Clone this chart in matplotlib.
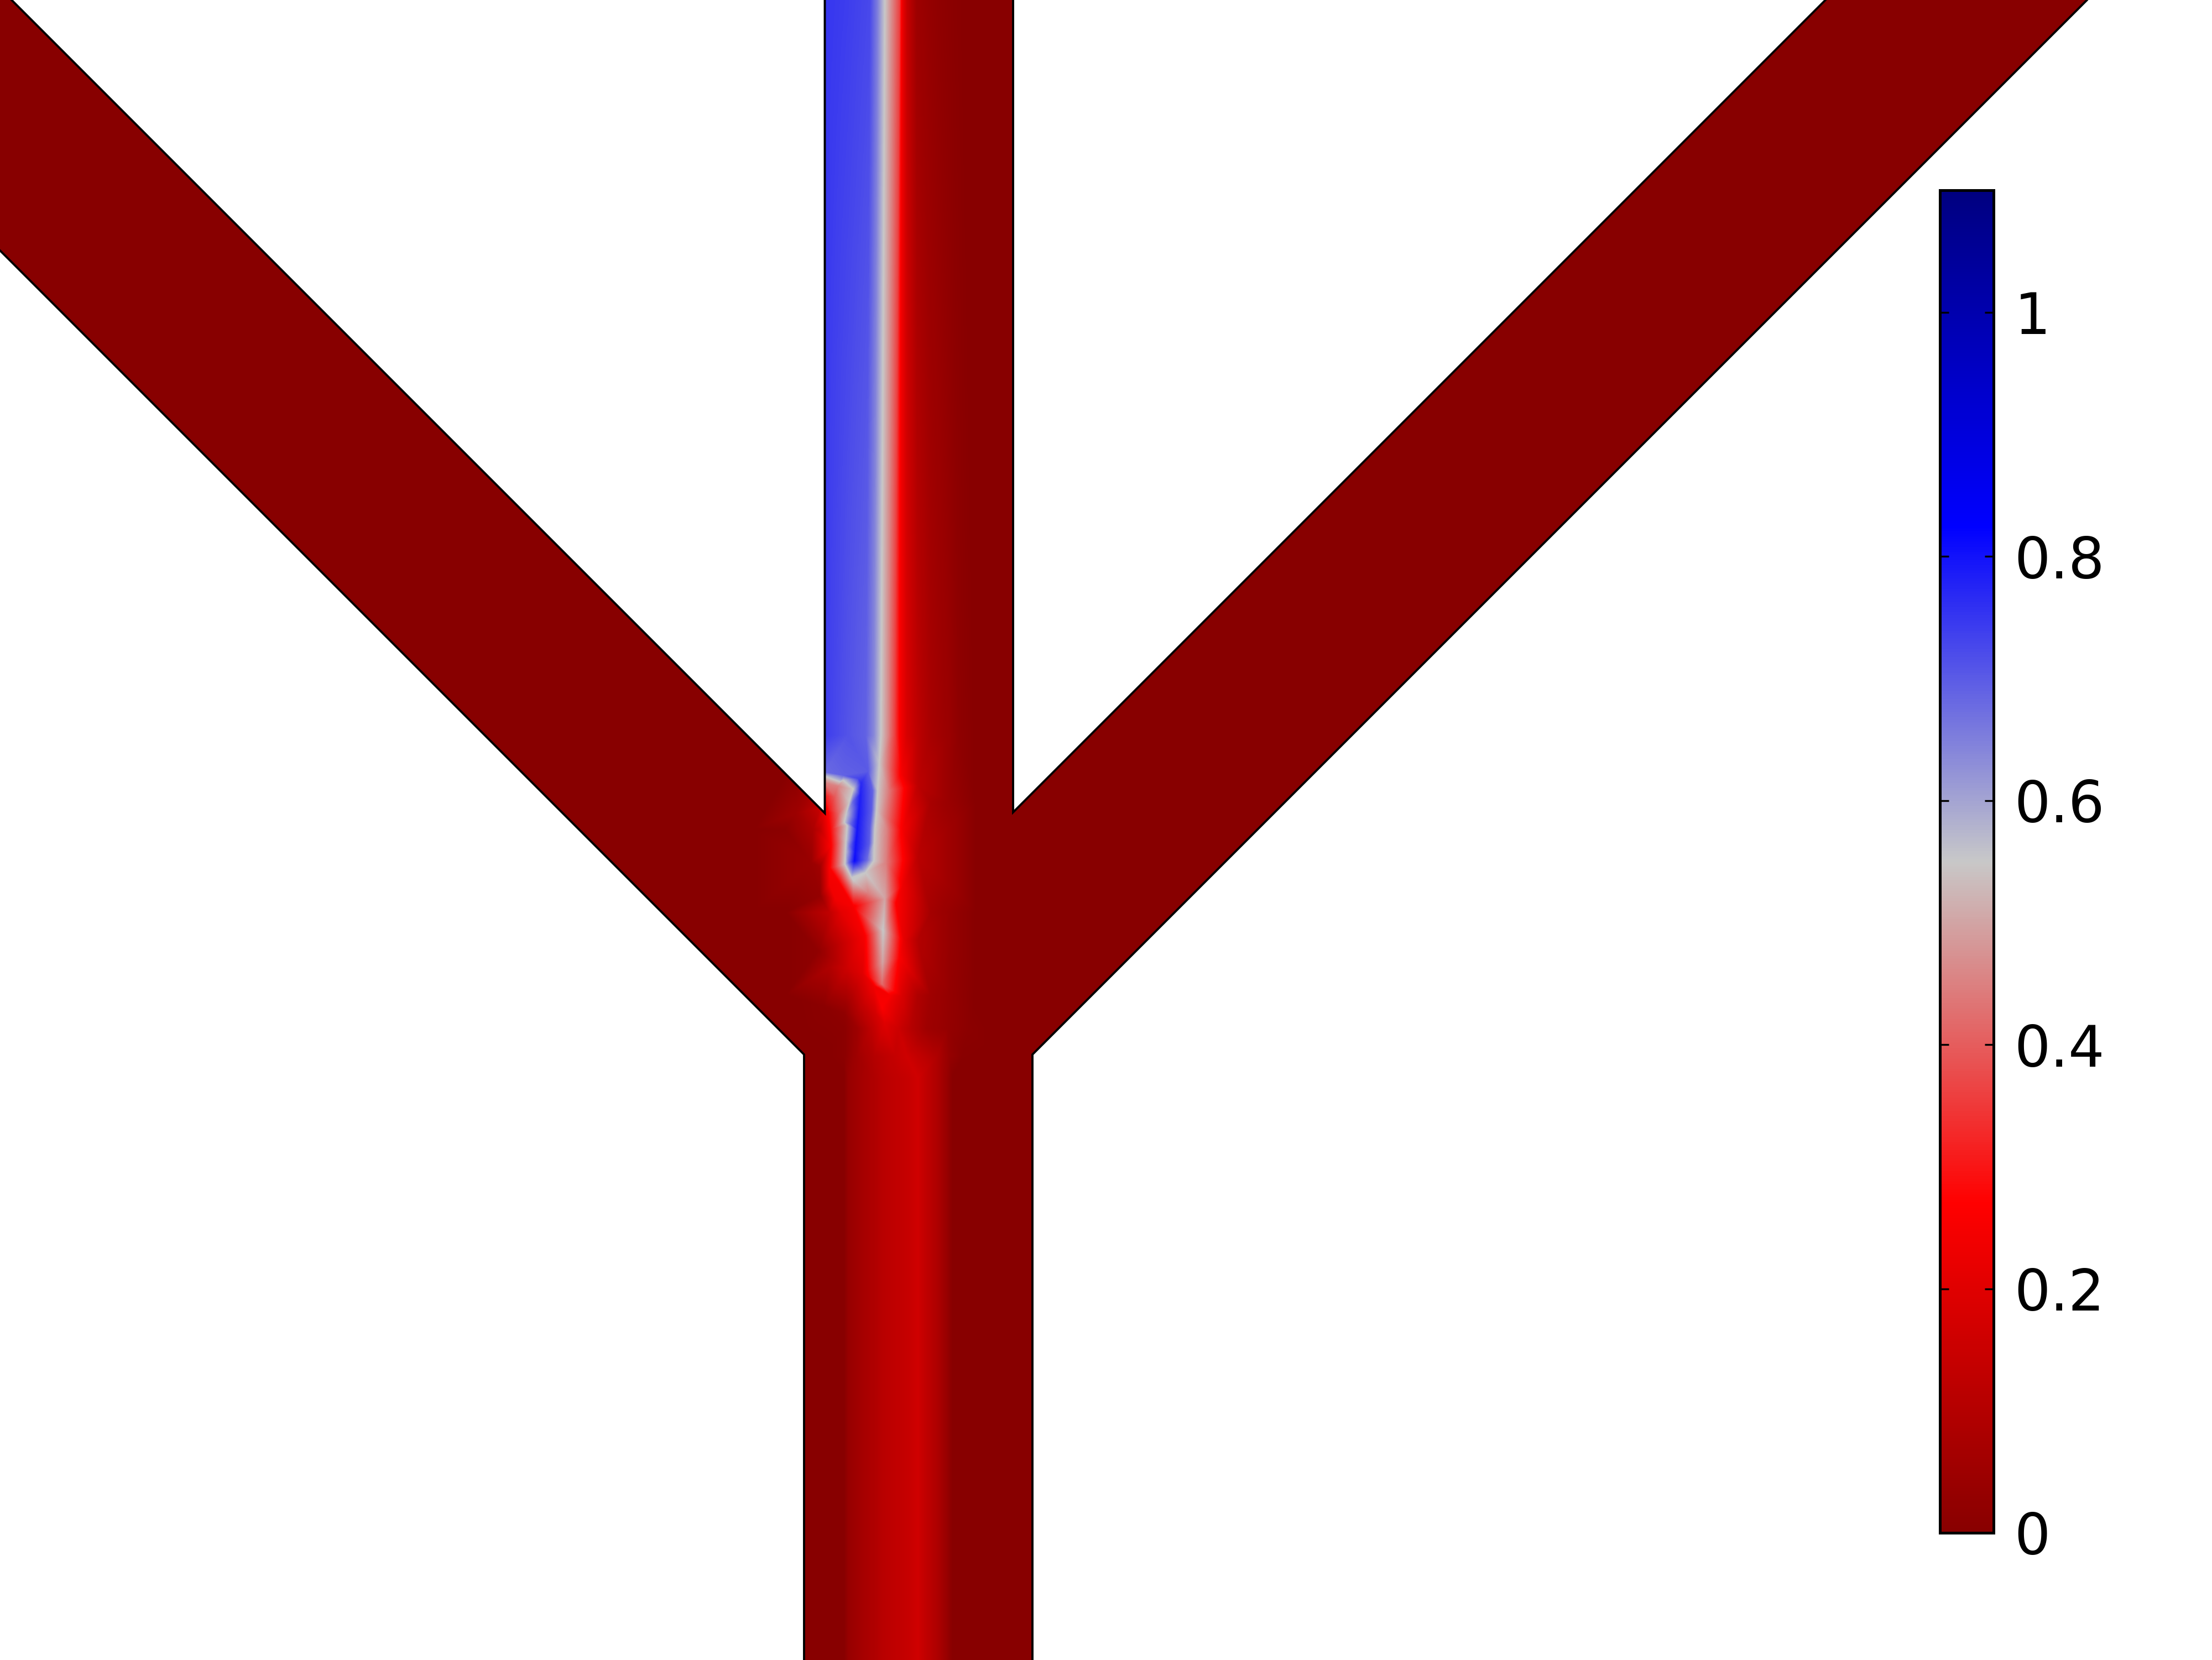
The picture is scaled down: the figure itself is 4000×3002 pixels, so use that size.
import numpy as np
import matplotlib
matplotlib.use("Agg")
import matplotlib.pyplot as plt
from matplotlib.colors import LinearSegmentedColormap, Normalize
from matplotlib.patches import Polygon
import matplotlib.tri as mtri
import matplotlib.cm as cm

W, H = 4000, 3002

# ---------------- colour scale ----------------
CMAP_POS = [0.0, 0.245, 0.5, 0.75, 1.0]
CMAP_COLORS = ['#880000', '#ff0000', '#c8c8c8', '#0000ff', '#000080']
VMIN, VMAX = 0.0, 1.1
CB_TICKS = [0, 0.2, 0.4, 0.6, 0.8, 1.0]
CB_LABELS = ['0', '0.2', '0.4', '0.6', '0.8', '1']

# ---------------- channel geometry (image pixels, y downwards) ----------------
DOMAIN_X = [-100, 1491.5, 1491.5, 1832, 1832, 3401, 3874, 1867, 1867, 1454, 1454, -100]
DOMAIN_Y = [-121, 1470.5, -100, -100, 1469, -100, -100, 1907, 3100, 3100, 1907, 353]

# ---------------- concentration data ----------------
# inlet channel cross-section at the top edge
P0_X = np.array([1491.5, 1533, 1573, 1587, 1600, 1613, 1627, 1631, 1640, 1657, 1680, 1700, 1725, 1750, 1832])
P0_C = np.array([0.75, 0.74, 0.725, 0.65, 0.55, 0.46, 0.36, 0.24, 0.14, 0.05, 0.03, 0.018, 0.008, 0.0, 0.0])
# inlet channel cross-section just above the junction
Y_TOP_ROW = 1330.0
P1_X = np.array([1491.5, 1533, 1566, 1580, 1593, 1606, 1618, 1628, 1640, 1660, 1683, 1717, 1733, 1767, 1832])
P1_C = np.array([0.74, 0.71, 0.69, 0.64, 0.55, 0.46, 0.36, 0.25, 0.18, 0.12, 0.073, 0.041, 0.018, 0.0, 0.0])
# outlet channel cross-section
Y_BOTTOM_ROW = 1950.0
B_X = np.array([1454, 1526, 1534, 1549, 1580, 1595, 1618, 1645, 1660, 1675, 1694, 1710, 1723, 1867])
B_C = np.array([0.0, 0.0, 0.035, 0.055, 0.09, 0.11, 0.127, 0.145, 0.163, 0.127, 0.09, 0.045, 0.0, 0.0])

# junction mesh nodes (x, y, concentration)
NODES = [
    # frame
    (1360, 1330, 0), (1900, 1330, 0), (1360, 1339, 0), (1360, 1500, 0), (1360, 1650, 0),
    (1360, 1813, 0), (1360, 1950, 0), (1900, 1500, 0), (1900, 1700, 0), (1900, 1950, 0),
    # left branch upper wall
    (1380, 1359, 0), (1400, 1379, 0), (1420, 1399, 0), (1440, 1419, 0.02), (1455, 1434, 0.05),
    (1465, 1444, 0.07), (1475, 1454, 0.10), (1483, 1462, 0.14), (1491.5, 1470.5, 0.22),
    # inlet left wall near the junction
    (1491.5, 1396, 0.68), (1491.5, 1404, 0.55), (1491.5, 1416, 0.45), (1491.5, 1440, 0.31),
    # blue front edge
    (1525, 1402, 0.69), (1552, 1408, 0.73), (1570, 1395, 0.70), (1525, 1411, 0.55), (1515, 1422, 0.45),
    (1510, 1440, 0.40), (1500, 1463, 0.31), (1517, 1470, 0.42),
    # blue tongue core
    (1557, 1417, 0.77), (1555.5, 1437, 0.78), (1554, 1457, 0.785), (1552, 1480, 0.79),
    (1550, 1500, 0.795), (1548, 1520, 0.80), (1546.5, 1540, 0.80), (1545, 1557, 0.81),
    # tongue inner light-blue band
    (1578, 1430, 0.69), (1576, 1465, 0.70), (1573, 1497, 0.70), (1572, 1525, 0.70), (1568, 1555, 0.68),
    (1542, 1450, 0.68), (1538, 1490, 0.68), (1537, 1530, 0.68), (1535, 1560, 0.68),
    # tongue left edge
    (1543, 1427, 0.55), (1536, 1450, 0.55), (1530, 1473, 0.55), (1527, 1487, 0.55), (1532, 1493, 0.55),
    (1530, 1520, 0.55), (1529, 1540, 0.55), (1528, 1563, 0.55), (1540, 1587, 0.55),
    # tongue right edge
    (1590, 1380, 0.55), (1587, 1430, 0.55), (1585, 1465, 0.55), (1582, 1497, 0.55), (1581, 1525, 0.55),
    (1580, 1557, 0.55), (1565, 1578, 0.55), (1543, 1592, 0.55),
    # red zone left of the tongue
    (1503, 1500, 0.29), (1503, 1530, 0.27), (1500, 1570, 0.26), (1500, 1600, 0.24),
    (1510, 1625, 0.24), (1517, 1597, 0.25),
    # darker zone towards the left branch
    (1483, 1500, 0.13), (1470, 1500, 0.08), (1440, 1470, 0.05), (1420, 1500, 0.01),
    (1467, 1560, 0.04), (1483, 1567, 0.06), (1483, 1620, 0.03), (1480, 1720, 0.02),
    (1490, 1820, 0.01), (1420, 1650, 0), (1420, 1800, 0), (1440, 1880, 0),
    # lower-left of the streak
    (1500, 1650, 0.13), (1522, 1650, 0.21), (1500, 1750, 0.09), (1533, 1750, 0.16),
    (1560, 1760, 0.20), (1500, 1833, 0.01), (1527, 1833, 0.02), (1550, 1833, 0.09),
    (1583, 1833, 0.17),
    # light streak below the tongue
    (1570, 1615, 0.45), (1600, 1625, 0.50), (1597, 1683, 0.55), (1596, 1740, 0.50),
    (1595, 1780, 0.42), (1595, 1822, 0.26),
    (1543, 1640, 0.25), (1563, 1693, 0.25), (1580, 1783, 0.24),
    (1620, 1633, 0.27), (1627, 1733, 0.26), (1610, 1800, 0.25),
    # right side of the interface
    (1606, 1430, 0.45), (1604, 1500, 0.45), (1602, 1560, 0.45),
    (1630, 1400, 0.25), (1632, 1500, 0.25), (1633, 1600, 0.23), (1635, 1700, 0.21), (1630, 1800, 0.19),
    (1660, 1420, 0.12), (1660, 1550, 0.115), (1660, 1700, 0.10), (1660, 1800, 0.09),
    (1683, 1450, 0.073), (1683, 1650, 0.065), (1683, 1800, 0.055),
    (1717, 1450, 0.04), (1717, 1650, 0.035), (1717, 1800, 0.03),
    (1767, 1450, 0.0), (1767, 1650, 0.0), (1767, 1800, 0.0),
    (1832, 1400, 0), (1832, 1469, 0), (1850, 1600, 0), (1850, 1800, 0), (1867, 1907, 0),
    # transition into the outlet
    (1600, 1850, 0.20),
    (1527, 1860, 0.01), (1550, 1860, 0.05), (1575, 1860, 0.12), (1625, 1860, 0.155),
    (1645, 1860, 0.11), (1675, 1860, 0.055), (1714, 1860, 0.03), (1752, 1860, 0.01), (1800, 1860, 0.0),
    (1454, 1907, 0), (1490, 1910, 0), (1527, 1910, 0.01), (1550, 1910, 0.055), (1580, 1910, 0.10),
    (1618, 1910, 0.14), (1640, 1910, 0.16), (1694, 1910, 0.09), (1717, 1910, 0.03),
    (1740, 1910, 0.005), (1800, 1910, 0.0),
]

# ---------------- field on the pixel grid ----------------
GRID_X0, GRID_X1 = 1360, 1900
xs = np.arange(GRID_X0, GRID_X1) + 0.5
ys = np.arange(H) + 0.5
F = np.zeros((H, xs.size))
for i, y in enumerate(ys):
    if y < Y_TOP_ROW:
        t = y / Y_TOP_ROW
        px = (1 - t) * P0_X + t * P1_X
        pc = (1 - t) * P0_C + t * P1_C
        F[i] = np.interp(xs, px, pc, left=0.0, right=0.0)
    elif y >= Y_BOTTOM_ROW:
        F[i] = np.interp(xs, B_X, B_C, left=0.0, right=0.0)

nodes = np.array(NODES, dtype=float)
jx = np.concatenate([nodes[:, 0], P1_X, B_X])
jy = np.concatenate([nodes[:, 1], np.full(P1_X.size, Y_TOP_ROW), np.full(B_X.size, Y_BOTTOM_ROW)])
jc = np.concatenate([nodes[:, 2], P1_C, B_C])
triang = mtri.Triangulation(jx, jy)
interp = mtri.LinearTriInterpolator(triang, jc)
mid = (ys >= Y_TOP_ROW) & (ys < Y_BOTTOM_ROW)
XX, YY = np.meshgrid(xs, ys[mid])
F[mid] = np.ma.filled(interp(XX, YY), 0.0)

# ---------------- drawing ----------------
cmap = LinearSegmentedColormap.from_list('wave_r', list(zip(CMAP_POS, CMAP_COLORS)), N=512)
norm = Normalize(VMIN, VMAX)

fig = plt.figure(figsize=(W / 400, H / 400), dpi=400)
ax = fig.add_axes([0, 0, 1, 1])
ax.set_axis_off()

verts = np.column_stack([DOMAIN_X, DOMAIN_Y])
base = Polygon(verts, closed=True, facecolor=cmap(norm(0.0)), edgecolor='none', zorder=1)
ax.add_patch(base)
im = ax.imshow(F, extent=(GRID_X0, GRID_X1, H, 0), cmap=cmap, norm=norm,
               interpolation='nearest', zorder=2)
im.set_clip_path(base)
ax.add_patch(Polygon(verts, closed=True, fill=False, edgecolor='black',
                     linewidth=0.7, joinstyle='miter', zorder=3))
ax.set_xlim(0, W)
ax.set_ylim(H, 0)
ax.set_aspect('auto')

# colour bar
cb_left, cb_right, cb_top, cb_bottom = 3508, 3605, 344, 2772
cax = fig.add_axes([cb_left / W, 1 - cb_bottom / H, (cb_right - cb_left) / W, (cb_bottom - cb_top) / H])
cb = fig.colorbar(cm.ScalarMappable(norm=norm, cmap=cmap), cax=cax, ticks=CB_TICKS)
cb.ax.set_yticklabels(CB_LABELS)
cb.outline.set_linewidth(0.9)
cax.minorticks_off()
cax.tick_params(axis='y', which='major', direction='in', left=True, right=True,
                labelleft=False, labelright=True, length=2.9, width=0.6,
                pad=6.7, labelsize=18.5, colors='black')

fig.savefig('out.png', dpi=400, facecolor='white')
